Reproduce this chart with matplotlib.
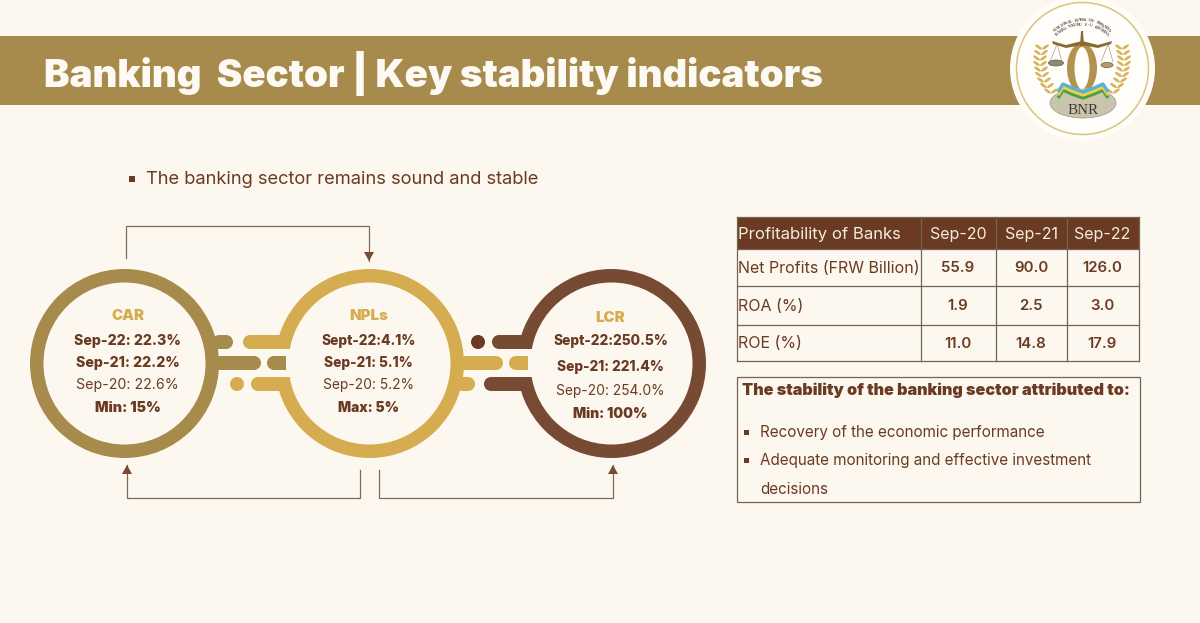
import numpy as np
import matplotlib
matplotlib.use('Agg')
import matplotlib.pyplot as plt
from matplotlib.patches import Circle, Wedge, Rectangle, Ellipse, Polygon

plt.rcParams['font.family'] = ['Inter', 'DejaVu Sans']

BG = '#fcf8ef'
KHAKI = '#a68b4c'
GOLD = '#d5ad50'
BROWN = '#774a34'
DARK = '#6b3a22'
LINE = '#7d6a58'

title = 'Banking  Sector | Key stability indicators'
subtitle = 'The banking sector remains sound and stable'

car_lines = ['Sep-22: 22.3%', 'Sep-21: 22.2%', 'Sep-20: 22.6%', 'Min: 15%']
npl_lines = ['Sept-22:4.1%', 'Sep-21: 5.1%', 'Sep-20: 5.2%', 'Max: 5%']
lcr_lines = ['Sept-22:250.5%', 'Sep-21: 221.4%', 'Sep-20: 254.0%', 'Min: 100%']

table_header = ['Profitability of Banks', 'Sep-20', 'Sep-21', 'Sep-22']
table_rows = ['Net Profits (FRW Billion)', 'ROA (%)', 'ROE (%)']
sep20 = ['55.9', '1.9', '11.0']
sep21 = ['90.0', '2.5', '14.8']
sep22 = ['126.0', '3.0', '17.9']

box_title = 'The stability of the banking sector attributed to:'
box_items = ['Recovery of the economic performance',
             'Adequate monitoring and effective investment']
box_tail = 'decisions'

fig = plt.figure(figsize=(12, 6.23), dpi=100, facecolor=BG)
ax = fig.add_axes([0, 0, 1, 1])
ax.set_xlim(0, 1200)
ax.set_ylim(623, 0)
ax.axis('off')


def px(s):
    return s * 0.72


def txt(x, y, s, size, color=DARK, weight='normal', ha='center', z=10, **kw):
    return ax.text(x, y, s, fontsize=px(size), color=color, fontweight=weight,
                   ha=ha, va='center', zorder=z, **kw)


def pill(x0, x1, y, h, color, z=3):
    # bar with round ends
    r = h / 2
    ax.add_patch(Circle((x0 + r, y), r, fc=color, lw=0, zorder=z))
    ax.add_patch(Circle((x1 - r, y), r, fc=color, lw=0, zorder=z))
    ax.add_patch(Rectangle((x0 + r, y - r), x1 - x0 - 2 * r, h, fc=color, lw=0, zorder=z))


# banner
ax.add_patch(Rectangle((0, 36), 1200, 69, fc=KHAKI, lw=0, zorder=1))
txt(44, 73, title, 38.4, color='#fdfaf3', weight='black', ha='left')

# bullet + subtitle
ax.add_patch(Rectangle((129, 176), 6, 6, fc=DARK, lw=0))
txt(146, 180, subtitle, 18.3, ha='left')

# rings
R, T = 94.5, 13.5
cy = 363.5
cx_car, cx_npl, cx_lcr = 124.5, 369.5, 611.5
for cx, col in [(cx_car, KHAKI), (cx_npl, GOLD), (cx_lcr, BROWN)]:
    ax.add_patch(Wedge((cx, cy), R, 0, 360, width=T, fc=col, lw=0, zorder=2))

# gaps on the left of NPL and LCR rings
ax.add_patch(Rectangle((270, 349), 30, 28, fc=BG, lw=0, zorder=2.5))
ax.add_patch(Rectangle((510, 349), 30, 28, fc=BG, lw=0, zorder=2.5))

# CAR connectors
pill(212, 233, 342, 14, KHAKI)
pill(212, 261, 363, 14, KHAKI)
ax.add_patch(Circle((237, 384), 7, fc=GOLD, lw=0, zorder=3))
ax.add_patch(Rectangle((273, 356), 13, 14, fc=KHAKI, lw=0, zorder=3))
ax.add_patch(Circle((274, 363), 7, fc=KHAKI, lw=0, zorder=3))
pill(243, 289, 342, 14, GOLD)
pill(251, 289, 384, 14, GOLD)

# NPL connectors
pill(455, 503, 363, 14, GOLD)
pill(455, 475, 384, 14, GOLD)
ax.add_patch(Circle((478, 342), 7, fc=DARK, lw=0, zorder=3))
ax.add_patch(Rectangle((516, 356), 12, 14, fc=GOLD, lw=0, zorder=3))
ax.add_patch(Circle((516, 363), 7, fc=GOLD, lw=0, zorder=3))
pill(492, 530, 342, 14, BROWN)
pill(484, 530, 384, 14, BROWN)

# ring text
for cx, head, lines, ys, fs in [
    (cx_car + 3, 'CAR', car_lines, [316.5, 340.5, 362.5, 385.5, 408.5], 14.2),
    (cx_npl - 1, 'NPLs', npl_lines, [316.5, 340.5, 362.5, 385.5, 408.5], 13.8),
    (cx_lcr - 1, 'LCR', lcr_lines, [318.5, 341.5, 366.5, 390.5, 414.5], 13.8),
]:
    txt(cx, ys[0], head, 15, color=GOLD, weight='black')
    for i, s in enumerate(lines):
        if i == 2:
            txt(cx, ys[i + 1], s, fs, weight='normal')
        else:
            txt(cx, ys[i + 1], s, fs, weight='black' if i == 3 else 'extra bold')

# flow arrows


def flow(xs, ys):
    ax.plot(xs, ys, color=LINE, lw=0.9, zorder=2, solid_joinstyle='miter')
    x, y = xs[-1], ys[-1]
    d = 1 if ys[-1] > ys[-2] else -1
    ax.add_patch(Polygon([(x, y), (x - 5, y - d * 9), (x + 5, y - d * 9)], fc=BROWN, lw=0, zorder=3))


flow([126, 126, 369, 369], [258, 226, 226, 261])
flow([360, 360, 127, 127], [470, 498, 498, 465])
flow([379, 379, 613, 613], [470, 498, 498, 465])

# table
col_x = [737, 921, 996, 1067, 1139]
row_y = [217, 249, 286, 325, 361]
ax.add_patch(Rectangle((col_x[0], row_y[0]), col_x[-1] - col_x[0], row_y[1] - row_y[0], fc=DARK, lw=0, zorder=1))
for x in col_x:
    ax.plot([x, x], [row_y[0], row_y[-1]], color='#6f6557', lw=0.9, zorder=2)
for y in row_y:
    ax.plot([col_x[0], col_x[-1]], [y, y], color='#6f6557', lw=0.9, zorder=2)

txt(738, 235, table_header[0], 16.7, color='#f6ecdc', ha='left')
for x, s in zip([958, 1031, 1102], table_header[1:]):
    txt(x, 235, s, 16, color='#f6ecdc')
for i, (label, a, b, c) in enumerate(zip(table_rows, sep20, sep21, sep22)):
    y = (row_y[i + 1] + row_y[i + 2]) / 2 + 1
    txt(738, y, label, 16, ha='left')
    for x, s in zip([958, 1031, 1102], [a, b, c]):
        txt(x, y, s, 15, weight='semibold')

# text box
ax.add_patch(Rectangle((737, 377), 402.5, 125, fc='none', ec='#6f6557', lw=0.9, zorder=2))
txt(742, 390, box_title, 16.2, weight='black', ha='left')
for y, s in zip([433, 461], box_items):
    ax.add_patch(Rectangle((744, y - 3), 5, 5, fc=DARK, lw=0, zorder=3))
    txt(760, y, s, 15.2, ha='left')
txt(760, 489, box_tail, 15.2, ha='left')

# BNR logo
lx, ly = 1082.5, 68.5
ax.add_patch(Circle((lx, ly), 72.5, fc='#fffdf8', lw=0, zorder=4))
ax.add_patch(Circle((lx, ly), 66, fc='#fffefb', ec='#dcc283', lw=1.1, zorder=4))
# curved lettering
for s, rad, size, span in [('NATIONAL BANK OF RWANDA', 40, 4.6, 84), ("BANKI NKURU Y'U RWANDA", 35.5, 4.2, 88)]:
    angs = np.linspace(-span / 2, span / 2, len(s))
    for ch, a in zip(s, angs):
        t = np.radians(a)
        ax.text(1082 + rad * np.sin(t), 60 - rad * np.cos(t), ch, fontsize=px(size), color='#5a4a3a',
                fontweight='bold', rotation=-a, ha='center', va='center', zorder=6,
                family=['Liberation Serif', 'DejaVu Sans'])
# balance beam
ax.add_patch(Polygon([(1052, 41), (1066, 45), (1082, 41), (1098, 45), (1112, 41), (1111, 44), (1098, 48),
                      (1082, 45), (1066, 48), (1053, 44)], fc='#8a6a2e', lw=0, zorder=6))
ax.add_patch(Polygon([(1081, 31), (1083, 31), (1084, 46), (1080, 46)], fc='#8a6a2e', lw=0, zorder=6))
for sx, ex in [(1057, 1056), (1108, 1107)]:
    ax.plot([sx, ex - 6], [44, 62], color='#a9a08d', lw=0.5, zorder=5)
    ax.plot([sx, ex + 6], [44, 62], color='#a9a08d', lw=0.5, zorder=5)
ax.add_patch(Ellipse((1056, 63), 15, 6, fc='#8f8a76', ec='#6d5a3a', lw=0.5, zorder=6))
ax.add_patch(Ellipse((1107, 65), 12, 5, fc='#b89a70', ec='#6d5a3a', lw=0.5, zorder=6))
# shield
ax.add_patch(Ellipse((1082, 68), 30, 50, fc='#b3924f', lw=0, zorder=5))
ax.add_patch(Ellipse((1082, 68), 15, 42, fc='#fffdf8', lw=0, zorder=5.5))
# wheat
wheat_off = [31, 35, 38, 40, 41, 42, 42, 41, 40]
for sgn in [-1, 1]:
    for k, off in enumerate(wheat_off):
        wx = 1082 + sgn * off
        wy = 91 - k * 5.5
        ax.add_patch(Ellipse((wx - 3.5, wy), 8, 2.8, angle=35, fc='#d9b25c', lw=0, zorder=5))
        ax.add_patch(Ellipse((wx + 3.5, wy), 8, 2.8, angle=-35, fc='#d9b25c', lw=0, zorder=5))
# base and ribbon
ax.add_patch(Ellipse((1083, 103), 66, 30, fc='#c9c4ae', ec='#9c967f', lw=0.5, zorder=5))
xr = np.array([1058, 1063, 1072, 1083, 1094, 1103, 1108])
yr = np.array([98, 90, 94, 98, 94, 90, 98])
for col, off in [('#4f9e3a', 0), ('#e8d24e', -3), ('#5ab0d6', -6)]:
    ax.plot(xr, yr + off, color=col, lw=2.4, zorder=6, solid_capstyle='butt')
ax.text(1083, 111, 'BNR', fontsize=px(15), color='#3f3a30', ha='center', va='center', zorder=7,
        family=['Liberation Serif', 'DejaVu Sans'])

fig.savefig('out.png', dpi=100, facecolor=BG)
